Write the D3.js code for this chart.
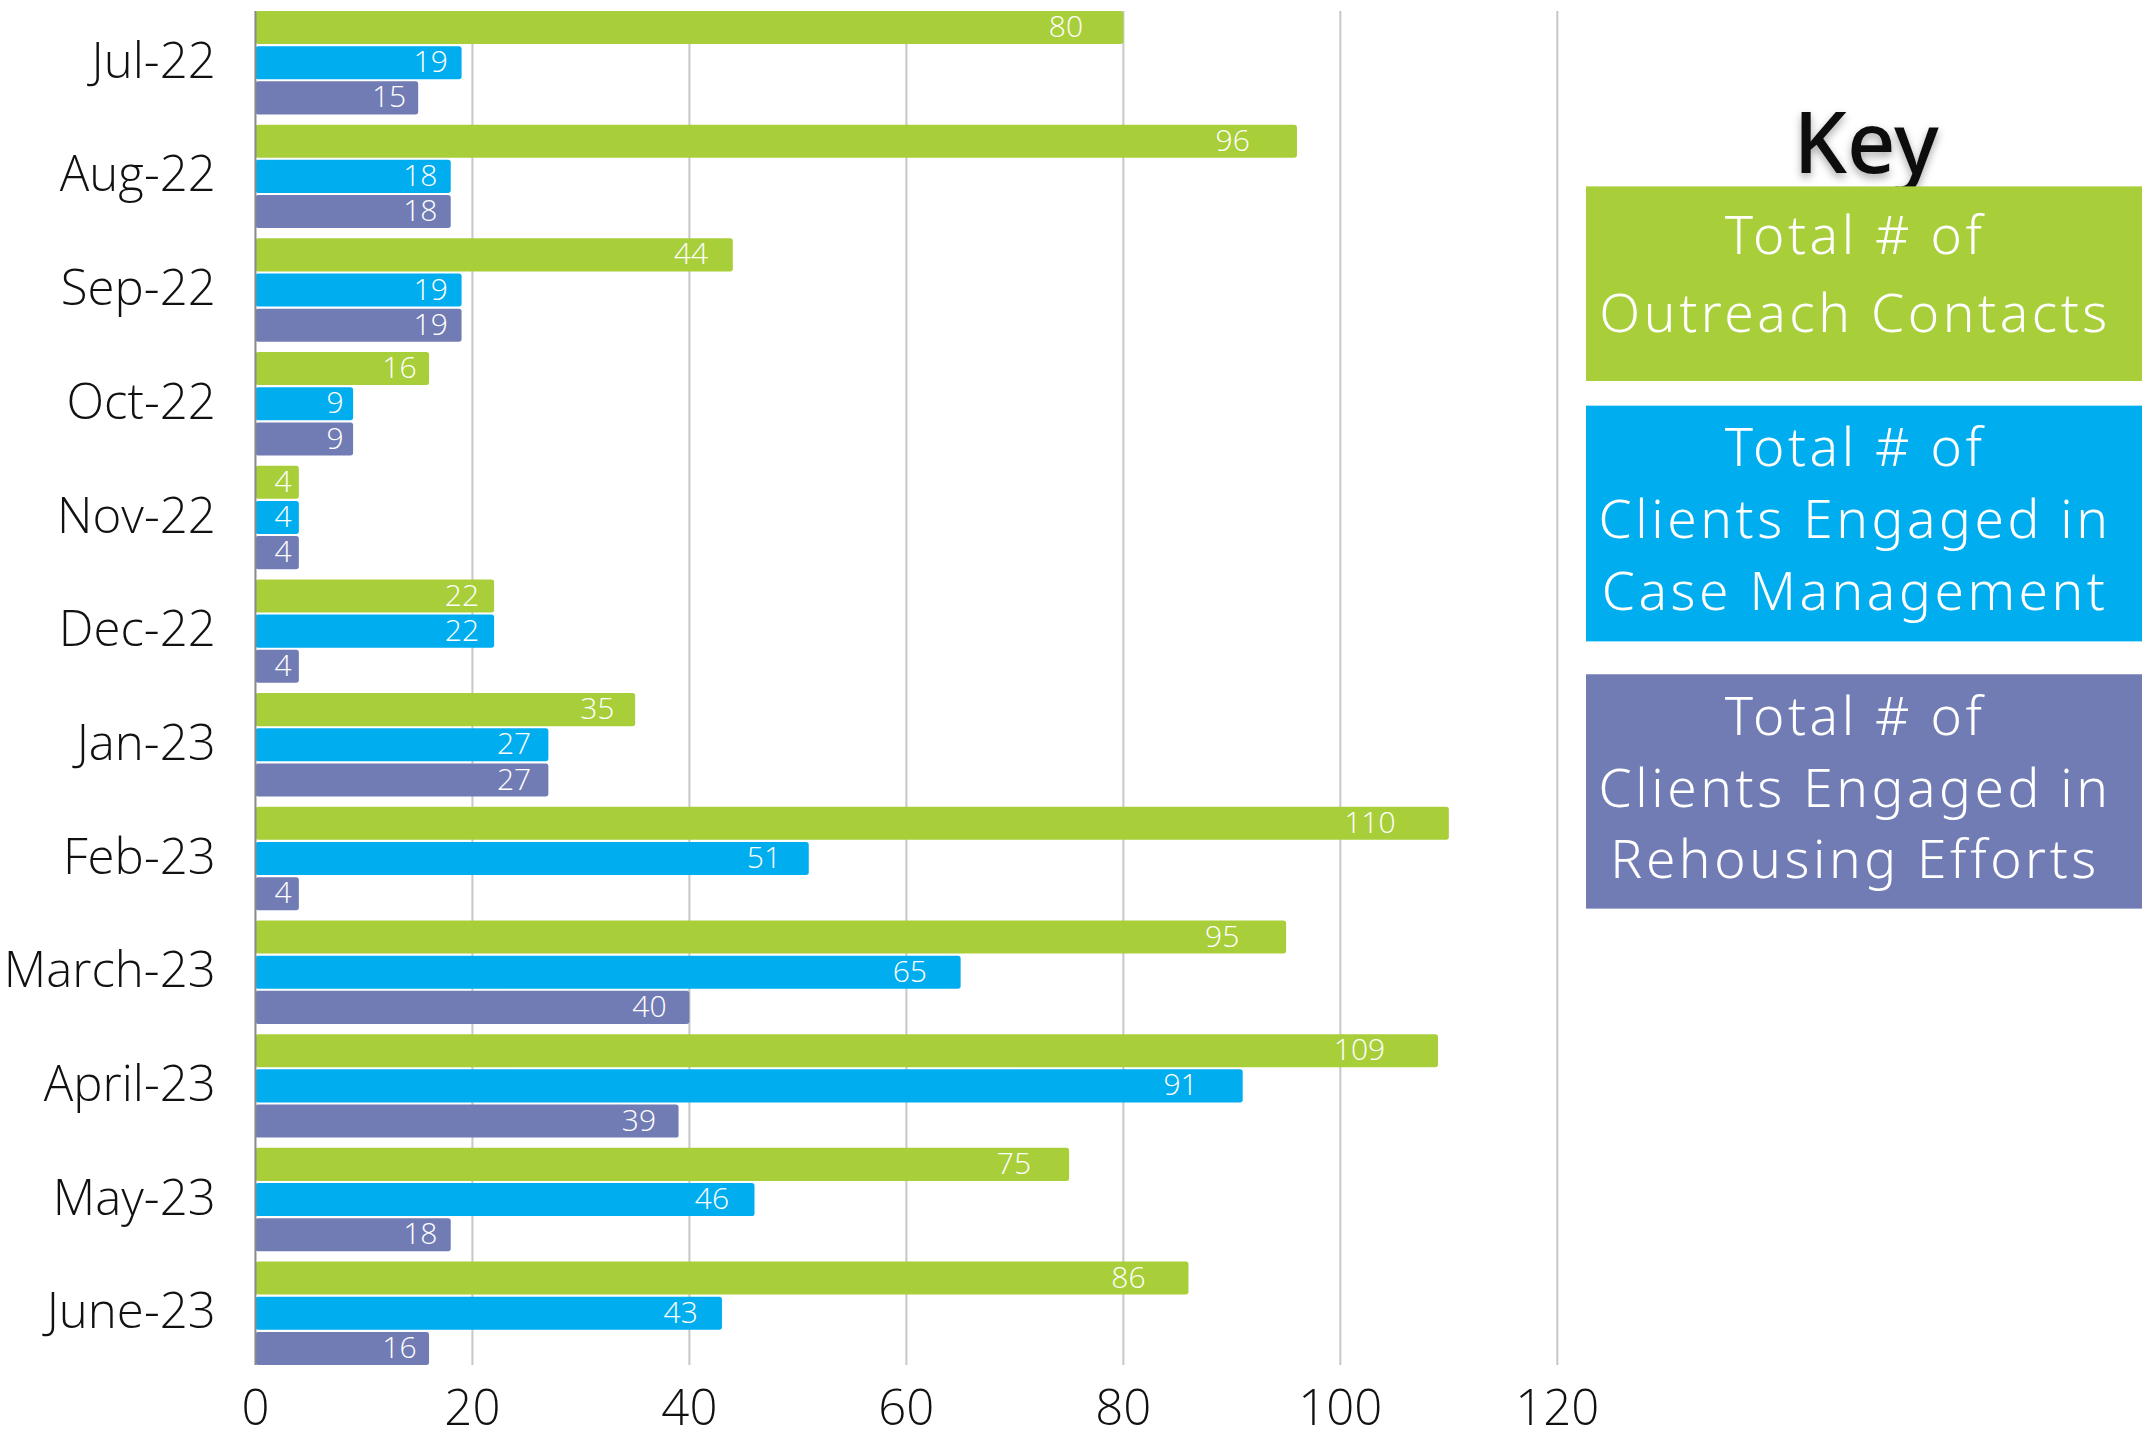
<!DOCTYPE html>
<html>
<head>
<meta charset="utf-8">
<script src="https://cdn.jsdelivr.net/npm/d3@7"></script>
<style>
html,body{margin:0;padding:0;background:#fff;overflow:hidden;}
</style>
</head>
<body>
<div id="chart"></div>
<script>

/* ==========================
   Data
========================== */

const months = ["Jul-22","Aug-22","Sep-22","Oct-22","Nov-22","Dec-22","Jan-23","Feb-23","March-23","April-23","May-23","June-23"];

const outreach = [80,96,44,16,4,22,35,110,95,109,75,86];
const caseMgmt = [19,18,19,9,4,22,27,51,65,91,46,43];
const rehousing = [15,18,19,9,4,4,27,4,40,39,18,16];

const seriesNames = ["outreach","caseMgmt","rehousing"];
const seriesColors = ["#a8ce3a","#00aeef","#717cb4"];

const xTicks = [0,20,40,60,80,100,120];

const keyLines = [
["Total # of","Outreach Contacts"],
["Total # of","Clients Engaged in","Case Management"],
["Total # of","Clients Engaged in","Rehousing Efforts"]
];

/* ==========================
   Chart
========================== */

const W = 1568, H = 1050;

const svg = d3.select("#chart")
.append("svg")
.attr("width", 2142)
.attr("height", 1439)
.attr("viewBox", `0 0 ${W} ${H}`)
.attr("preserveAspectRatio", "none");

const x = d3.scaleLinear()
.domain([0,120])
.range([187,1140]);

const y = d3.scaleBand()
.domain(months)
.range([8,996])
.paddingInner(0.09)
.paddingOuter(0);

const yInner = d3.scaleBand()
.domain(seriesNames)
.range([0,y.bandwidth()])
.paddingInner(0.06);

// gridlines
svg.append("g")
.selectAll("line")
.data(xTicks.slice(1))
.enter()
.append("line")
.attr("x1", d => x(d))
.attr("x2", d => x(d))
.attr("y1", 8)
.attr("y2", 996)
.attr("stroke", "#c8c8c8")
.attr("stroke-width", 1.5);

// bottom tick labels
svg.append("g")
.selectAll("text")
.data(xTicks)
.enter()
.append("text")
.attr("x", d => x(d))
.attr("y", 1040)
.attr("text-anchor", "middle")
.attr("font-family", "Open Sans")
.attr("font-weight", 300)
.attr("font-size", 36)
.attr("fill", "#111")
.text(d => d);

// category labels
svg.append("g")
.selectAll("text")
.data(months)
.enter()
.append("text")
.attr("x", 158)
.attr("y", d => y(d) + y.bandwidth()/2 + 11)
.attr("text-anchor", "end")
.attr("font-family", "Open Sans")
.attr("font-weight", 300)
.attr("font-size", 36)
.attr("fill", "#111")
.text(d => d);

const rows = months.map((m,i) => ({
month: m,
values: [outreach[i], caseMgmt[i], rehousing[i]]
}));

const groups = svg.append("g")
.selectAll("g")
.data(rows)
.enter()
.append("g")
.attr("transform", d => `translate(0,${y(d.month)})`);

const bars = groups.selectAll("g")
.data(d => d.values.map((v,k) => ({key: seriesNames[k], value: v, color: seriesColors[k]})))
.enter()
.append("g");

bars.append("rect")
.attr("x", x(0))
.attr("y", d => yInner(d.key))
.attr("width", d => x(d.value) - x(0))
.attr("height", yInner.bandwidth())
.attr("rx", 2)
.attr("fill", d => d.color);

bars.append("text")
.attr("x", d => x(d.value) - 4 - 0.04*(x(d.value) - x(0)))
.attr("y", d => yInner(d.key) + yInner.bandwidth()/2 + 7)
.attr("text-anchor", "end")
.attr("font-family", "Open Sans")
.attr("font-weight", 300)
.attr("font-size", 22)
.attr("fill", "#fff")
.text(d => d.value);

// axis line
svg.append("line")
.attr("x1", x(0))
.attr("x2", x(0))
.attr("y1", 8)
.attr("y2", 996)
.attr("stroke", "#8a8a8a")
.attr("stroke-width", 1.5);

/* ==========================
   Key
========================== */

const defs = svg.append("defs");

defs.append("filter")
.attr("id", "keyShadow")
.append("feDropShadow")
.attr("dx", 0)
.attr("dy", 3)
.attr("stdDeviation", 3)
.attr("flood-color", "#000")
.attr("flood-opacity", 0.35);

svg.append("text")
.attr("x", 1366)
.attr("y", 126)
.attr("text-anchor", "middle")
.attr("font-family", "Noto Sans")
.attr("font-weight", 500)
.attr("font-size", 62)
.attr("fill", "#111")
.attr("filter", "url(#keyShadow)")
.text("Key");

const keyBoxes = [
{top:136, bottom:278, firstY:185, step:57},
{top:296, bottom:468, firstY:340, step:52.5},
{top:492, bottom:663, firstY:536, step:52.5}
];

keyBoxes.forEach((b,i) => {

svg.append("rect")
.attr("x", 1161)
.attr("y", b.top)
.attr("width", W - 1161)
.attr("height", b.bottom - b.top)
.attr("fill", seriesColors[i]);

svg.append("text")
.attr("text-anchor", "middle")
.attr("font-family", "Noto Sans")
.attr("font-weight", 300)
.attr("font-size", 39)
.attr("letter-spacing", 2.6)
.attr("fill", "#fff")
.selectAll("tspan")
.data(keyLines[i])
.enter()
.append("tspan")
.attr("x", 1358)
.attr("y", (d,j) => b.firstY + j*b.step)
.text(d => d);

});

</script>
</body>
</html>
